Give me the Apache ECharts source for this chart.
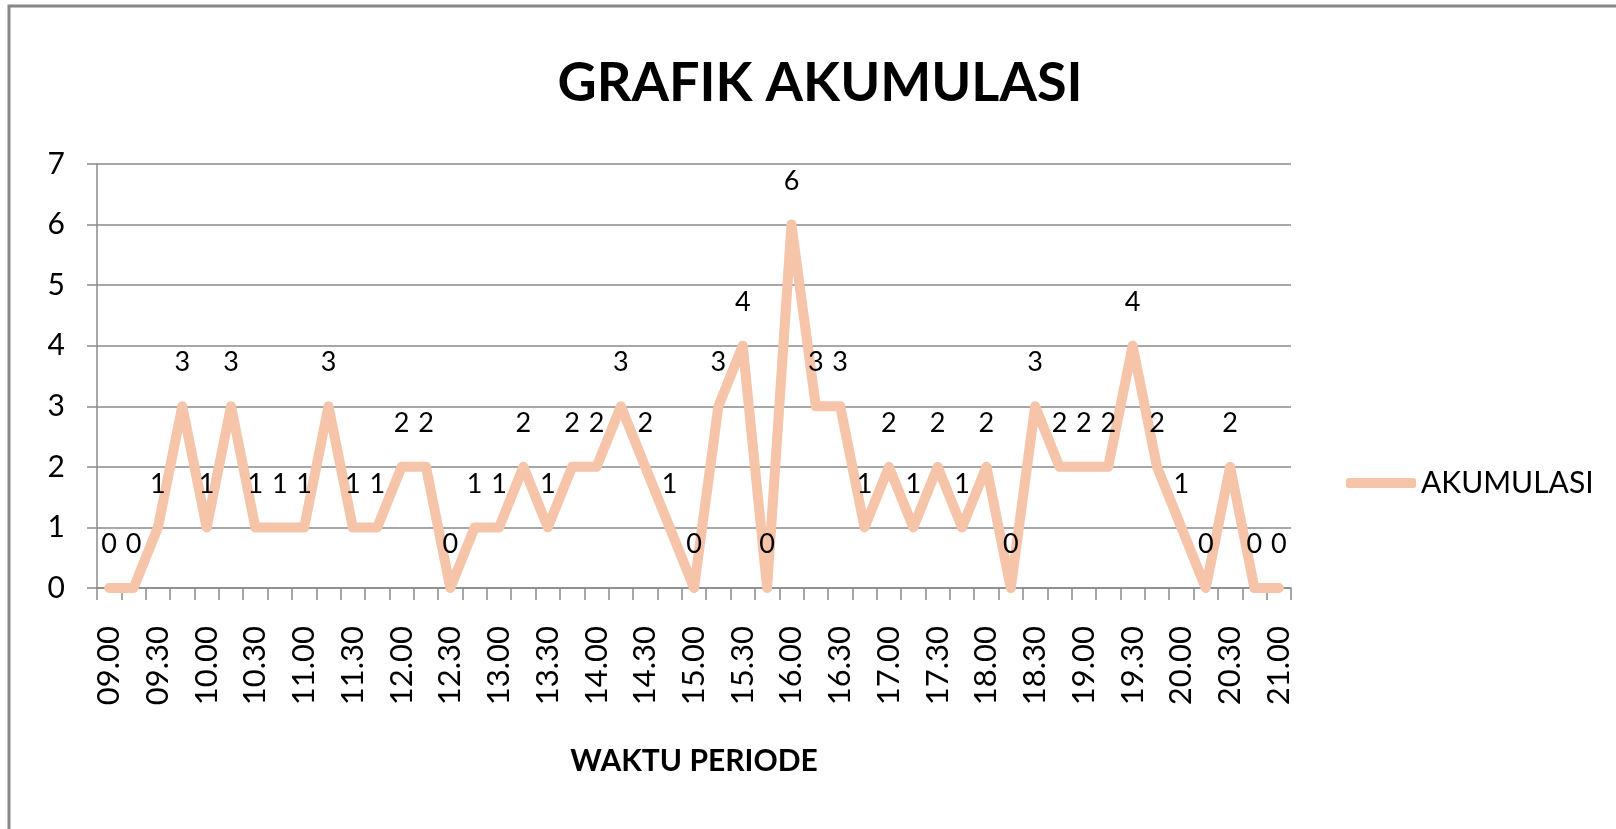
<!DOCTYPE html>
<html>
<head>
<meta charset="utf-8">
<script src="https://cdn.jsdelivr.net/npm/echarts@6/dist/echarts.min.js"></script>
<style>
  html, body { margin: 0; padding: 0; background: #fff; }
  #chart { width: 1616px; height: 829px; }
</style>
</head>
<body>
<div id="chart"></div>
<script>
  // waktu periode, tiap 15 menit
  const periods = [
    '09.00', '09.15', '09.30', '09.45', '10.00', '10.15', '10.30', '10.45',
    '11.00', '11.15', '11.30', '11.45', '12.00', '12.15', '12.30', '12.45',
    '13.00', '13.15', '13.30', '13.45', '14.00', '14.15', '14.30', '14.45',
    '15.00', '15.15', '15.30', '15.45', '16.00', '16.15', '16.30', '16.45',
    '17.00', '17.15', '17.30', '17.45', '18.00', '18.15', '18.30', '18.45',
    '19.00', '19.15', '19.30', '19.45', '20.00', '20.15', '20.30', '20.45',
    '21.00'
  ];
  const akumulasi = [
    0, 0, 1, 3, 1, 3, 1, 1,
    1, 3, 1, 1, 2, 2, 0, 1,
    1, 2, 1, 2, 2, 3, 2, 1,
    0, 3, 4, 0, 6, 3, 3, 1,
    2, 1, 2, 1, 2, 0, 3, 2,
    2, 2, 4, 2, 1, 0, 2, 0,
    0
  ];
  const yTicks = [0, 1, 2, 3, 4, 5, 6, 7];

  const font = 'Lato';
  const lineColor = '#F6C4A9';
  const gridColor = '#8a8a8a';

  let chart = echarts.init(document.getElementById('chart'), null, {renderer: 'canvas'});
  let option = {
    backgroundColor: '#fff',
    animation: false,
    textStyle: {fontFamily: font},
    title: {
      text: 'GRAFIK AKUMULASI',
      left: 815,
      textAlign: 'center',
      top: 52,
      textStyle: {fontFamily: font, fontWeight: 'bold', fontSize: 54, color: '#000'}
    },
    legend: {
      data: ['AKUMULASI'],
      left: 1341,
      top: 463,
      icon: 'roundRect',
      itemWidth: 70,
      itemHeight: 10,
      itemGap: 5,
      textStyle: {fontFamily: font, fontSize: 30, color: '#000', padding: [0, 0, 0, 0]}
    },
    grid: {
      left: 97,
      top: 164,
      width: 1194,
      height: 424,
      containLabel: false
    },
    graphic: [
      {
        // bingkai luar grafik
        type: 'rect',
        shape: {x: 9, y: 6, width: 1700, height: 900},
        style: {fill: 'none', stroke: '#888', lineWidth: 3},
        silent: true
      }
    ],
    xAxis: {
      type: 'category',
      data: periods,
      boundaryGap: true,
      name: 'WAKTU PERIODE',
      nameLocation: 'middle',
      nameGap: 158,
      nameTextStyle: {fontFamily: font, fontWeight: 'bold', fontSize: 30, color: '#000'},
      axisLine: {lineStyle: {color: gridColor, width: 1.5}},
      axisTick: {show: true, interval: 0, length: 12, lineStyle: {color: gridColor, width: 1.5}},
      axisLabel: {
        interval: 1,
        rotate: 90,
        margin: 38,
        fontFamily: font,
        fontSize: 31,
        color: '#000'
      },
      splitLine: {show: false}
    },
    yAxis: {
      type: 'value',
      min: yTicks[0],
      max: yTicks[yTicks.length - 1],
      interval: 1,
      axisLine: {show: true, lineStyle: {color: gridColor, width: 1.5}},
      axisTick: {show: true, length: 10, lineStyle: {color: gridColor, width: 1.5}},
      axisLabel: {margin: 32, fontFamily: font, fontSize: 30, color: '#000'},
      splitLine: {show: true, lineStyle: {color: gridColor, width: 1.5}}
    },
    series: [
      {
        name: 'AKUMULASI',
        type: 'line',
        data: akumulasi,
        symbol: 'circle',
        symbolSize: 2,
        itemStyle: {color: lineColor},
        lineStyle: {color: lineColor, width: 10, cap: 'round', join: 'round'},
        label: {
          show: true,
          position: 'top',
          distance: 29,
          fontFamily: font,
          fontSize: 27,
          color: '#000'
        }
      }
    ]
  };
  chart.setOption(option);
</script>
</body>
</html>
